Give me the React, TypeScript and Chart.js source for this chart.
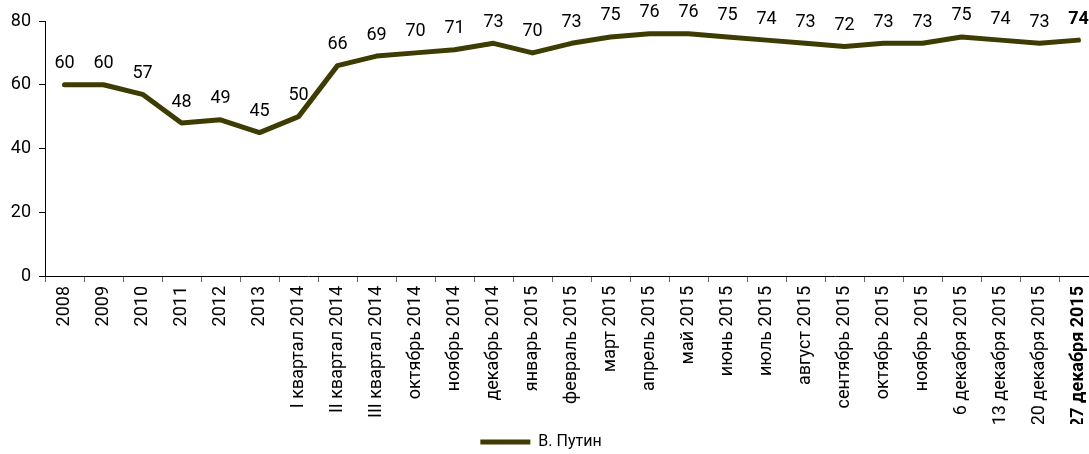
import { useEffect, useRef } from "react";
import { Chart, registerables } from "chart.js";

Chart.register(...registerables);

const categories = [
  "2008", "2009", "2010", "2011", "2012", "2013",
  "I квартал 2014", "II квартал 2014", "III квартал 2014",
  "октябрь 2014", "ноябрь 2014", "декабрь 2014",
  "январь 2015", "февраль 2015", "март 2015", "апрель 2015", "май 2015",
  "июнь 2015", "июль 2015", "август 2015", "сентябрь 2015", "октябрь 2015",
  "ноябрь 2015", "6 декабря 2015", "13 декабря 2015", "20 декабря 2015",
  "27 декабря 2015",
];
const putinValues = [60, 60, 57, 48, 49, 45, 50, 66, 69, 70, 71, 73, 70, 73, 75, 76, 76, 75, 74, 73, 72, 73, 73, 75, 74, 73, 74];
const seriesName = "В. Путин";
const yMin = 0;
const yMax = 80;
const yStep = 20;

const FONT = "Roboto";
const LINE_COLOR = "#3d3c03";

const pointLabelPlugin = {
  id: "pointLabels",
  afterDatasetsDraw(chart: any) {
    const ctx = chart.ctx;
    const meta = chart.getDatasetMeta(0);
    ctx.save();
    ctx.textAlign = "center";
    ctx.textBaseline = "middle";
    ctx.fillStyle = "#000";
    meta.data.forEach((pt: any, i: number) => {
      const last = i === putinValues.length - 1;
      ctx.font = `${last ? "bold " : ""}18px ${FONT}`;
      ctx.fillText(String(putinValues[i]), pt.x, pt.y - 21);
    });
    ctx.restore();
  },
};

export default function App() {
  const ref = useRef<HTMLCanvasElement | null>(null);
  useEffect(() => {
    if (!ref.current) return;
    const chart = new Chart(ref.current, {
      type: "line",
      data: {
        labels: categories,
        datasets: [
          {
            label: seriesName,
            data: putinValues,
            borderColor: LINE_COLOR,
            backgroundColor: LINE_COLOR,
            borderWidth: 5,
            pointRadius: 0,
            tension: 0,
            borderCapStyle: "round",
            borderJoinStyle: "round",
          },
        ],
      },
      options: {
        animation: false,
        responsive: false,
        layout: { padding: { top: 21, right: 20, left: -16, bottom: -6 } },
        plugins: {
          tooltip: { enabled: false },
          legend: {
            position: "bottom",
            labels: {
              usePointStyle: true,
              pointStyle: "line",
              pointStyleWidth: 50,
              color: "#000",
              font: { family: FONT, size: 16 },
              padding: 10,
            },
          },
        },
        scales: {
          x: {
            type: "category",
            offset: true,
            border: { display: true, color: "#000", width: 1 },
            grid: { display: true, drawOnChartArea: false, drawTicks: true, tickLength: 6, color: "#666", offset: true },
            ticks: {
              autoSkip: false,
              minRotation: 90,
              maxRotation: 90,
              padding: 4,
              color: "#000",
              font: (c: any) => ({
                family: FONT,
                size: 18,
                weight: c.index === categories.length - 1 ? "bold" : "normal",
              }),
            },
            afterFit: (s: any) => { s.height = 148; },
          },
          y: {
            min: yMin,
            max: yMax,
            border: { display: true, color: "#000", width: 1 },
            grid: { display: true, drawOnChartArea: false, drawTicks: true, tickLength: 6, color: "#000" },
            ticks: { stepSize: yStep, padding: 8, color: "#000", font: { family: FONT, size: 18 } },
            afterFit: (s: any) => { s.width = 61; },
          },
        },
      },
      plugins: [pointLabelPlugin],
    });
    return () => chart.destroy();
  }, []);
  return (
    <div style={{ position: "fixed", left: 0, top: 0, width: 1089, height: 454, overflow: "hidden", background: "#fff" }}>
      <canvas ref={ref} width={1118} height={454} style={{ width: 1118, height: 454, display: "block" }} />
    </div>
  );
}
